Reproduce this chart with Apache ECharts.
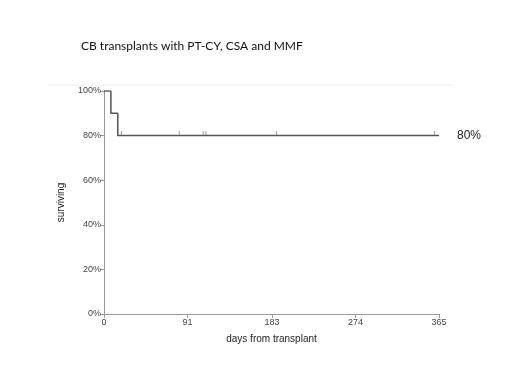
<!DOCTYPE html>
<html lang="en" style="height: 100%">
<head>
<meta charset="utf-8">
<title>CB transplants with PT-CY, CSA and MMF</title>
</head>
<body style="height: 100%; margin: 0; background: #fff">
<div id="container" style="width: 520px; height: 390px"></div>
<script type="text/javascript" src="https://cdn.jsdelivr.net/npm/echarts@6/dist/echarts.min.js"></script>
<script type="text/javascript">
// survival curve (step points) and censored observations
var stepDays = [0, 7.5, 15, 365];
var stepSurvival = [100, 90, 80, 80];
var censorDays = [19, 82, 108, 111, 188, 360];
var censorSurvival = [80, 80, 80, 80, 80, 80];
var xTicks = [0, 91, 183, 274, 365];
var yTicks = [0, 20, 40, 60, 80, 100];

var dom = document.getElementById('container');
var myChart = echarts.init(dom);

var axisGray = '#9a9a9a';
var labelStyle = {color: '#444', fontFamily: 'Liberation Sans', fontSize: 9};

var option = {
    animation: false,
    title: {
        text: 'CB transplants with PT-CY, CSA and MMF',
        left: 76,
        top: 35,
        textStyle: {fontFamily: 'Lato', fontSize: 12, fontWeight: 'normal', color: '#111'}
    },
    graphic: [{
        type: 'line',
        shape: {x1: 48, y1: 85, x2: 452, y2: 85},
        style: {stroke: '#eeeeee', lineWidth: 1}
    }],
    grid: {left: 104, right: 81, top: 91, bottom: 76},
    xAxis: {
        type: 'value',
        min: 0,
        max: 365,
        name: 'days from transplant',
        nameLocation: 'middle',
        nameGap: 20,
        nameTextStyle: {color: '#222', fontFamily: 'Liberation Sans', fontSize: 10},
        axisLine: {show: true, lineStyle: {color: axisGray, width: 1}},
        axisTick: {show: true, length: 4, customValues: xTicks, lineStyle: {color: axisGray}},
        axisLabel: Object.assign({customValues: xTicks, margin: 4}, labelStyle),
        splitLine: {show: false}
    },
    yAxis: {
        type: 'value',
        min: 0,
        max: 100,
        interval: 20,
        name: 'surviving',
        nameLocation: 'middle',
        nameGap: 38,
        nameTextStyle: {color: '#222', fontFamily: 'Liberation Sans', fontSize: 10},
        axisLine: {show: true, lineStyle: {color: axisGray, width: 1}},
        axisTick: {show: true, length: 4, customValues: yTicks, lineStyle: {color: axisGray}},
        axisLabel: Object.assign({margin: 3, customValues: yTicks, formatter: '{value}%'}, labelStyle),
        splitLine: {show: false}
    },
    series: [
        {
            type: 'line',
            step: 'end',
            symbol: 'none',
            lineStyle: {color: '#555', width: 1.5},
            data: stepDays.map(function (d, i) { return [d, stepSurvival[i]]; }),
            endLabel: {
                show: true,
                formatter: function (p) { return p.value[1] + '%'; },
                distance: 18,
                color: '#222',
                fontFamily: 'Liberation Sans',
                fontSize: 12
            }
        },
        {
            type: 'scatter',
            symbol: 'rect',
            symbolSize: [1, 5],
            symbolOffset: [0, -2],
            itemStyle: {color: '#888'},
            data: censorDays.map(function (d, i) { return [d, censorSurvival[i]]; })
        }
    ]
};

myChart.setOption(option);
window.addEventListener('resize', myChart.resize);
</script>
</body>
</html>
